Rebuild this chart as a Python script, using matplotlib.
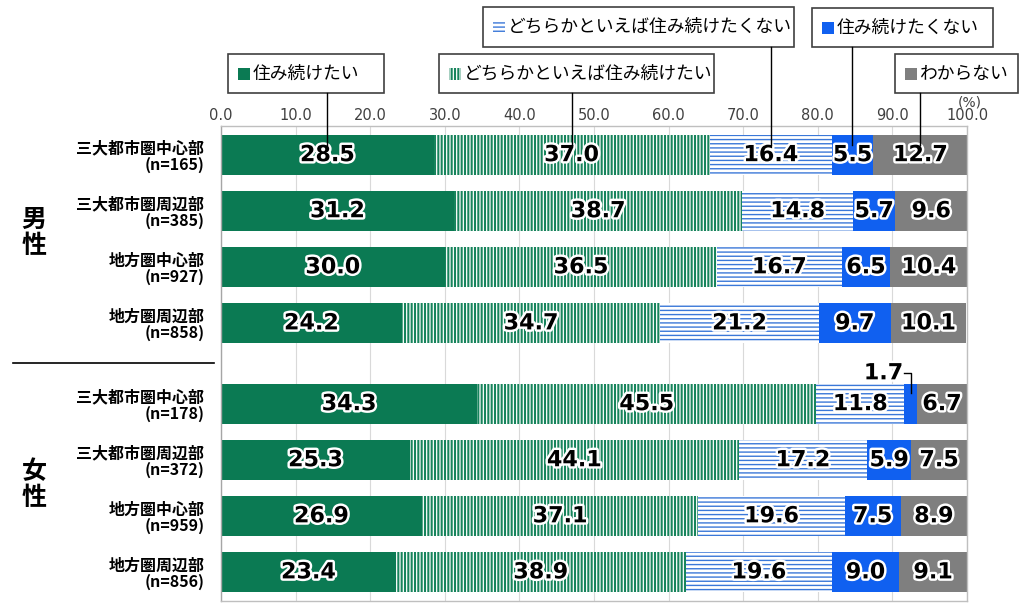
import matplotlib
matplotlib.use('Agg')
import matplotlib.pyplot as plt
from matplotlib.patches import Rectangle
from matplotlib.lines import Line2D
import matplotlib.patheffects as pe
import matplotlib.transforms as mtransforms
import numpy as np

plt.rcParams['font.family'] = ['Noto Sans CJK JP', 'DejaVu Sans']

# data
series = ['住み続けたい', 'どちらかといえば住み続けたい',
          'どちらかといえば住み続けたくない', '住み続けたくない', 'わからない']
groups = ['男性', '女性']
areas = ['三大都市圏中心部', '三大都市圏周辺部', '地方圏中心部', '地方圏周辺部']
n_male = [165, 385, 927, 858]
n_female = [178, 372, 959, 856]
male_vals = [[28.5, 37.0, 16.4, 5.5, 12.7],
             [31.2, 38.7, 14.8, 5.7, 9.6],
             [30.0, 36.5, 16.7, 6.5, 10.4],
             [24.2, 34.7, 21.2, 9.7, 10.1]]
female_vals = [[34.3, 45.5, 11.8, 1.7, 6.7],
               [25.3, 44.1, 17.2, 5.9, 7.5],
               [26.9, 37.1, 19.6, 7.5, 8.9],
               [23.4, 38.9, 19.6, 9.0, 9.1]]

# styles: face, hatch colour, hatch, hatch linewidth
styles = [('#0B7A53', '#0B7A53', None, 1.0),
          ('white', '#17845C', '|' * 5, 1.5),
          ('white', '#3B78D8', '-' * 4, 1.0),
          ('#1060F0', '#1060F0', None, 1.0),
          ('#7F7F7F', '#7F7F7F', None, 1.0)]

W, H = 1024, 609
fig = plt.figure(figsize=(W / 100, H / 100), dpi=100)


def fx(x):
  return x / W


def fy(y):
  return 1 - y / H


ax = fig.add_axes([fx(221), fy(601), fx(967) - fx(221), fy(126) - fy(601)])

vals = np.array(male_vals + female_vals)
gap = 0.44
ypos = np.array([i for i in range(4)] + [i + 4 + gap for i in range(4)])
labels = [f'{a}\n(n={n})' for a, n in zip(areas, n_male)] + \
         [f'{a}\n(n={n})' for a, n in zip(areas, n_female)]

lbl_kw = dict(fontsize=16, fontweight='bold', family='DejaVu Sans',
              color='black', zorder=5,
              path_effects=[pe.withStroke(linewidth=3.5, foreground='white')])

lefts = np.zeros(len(vals))
for j, (face, hc, hatch, hlw) in enumerate(styles):
  plt.rcParams['hatch.linewidth'] = hlw
  bars = ax.barh(ypos, vals[:, j], left=lefts, height=0.71, color=face,
                 edgecolor=hc, hatch=hatch, linewidth=0, zorder=2)
  for b in bars:
    if hasattr(b, 'set_hatch_linewidth'):
      b.set_hatch_linewidth(hlw)
  for k in range(len(vals)):
    v = vals[k, j]
    cx = lefts[k] + v / 2
    if v >= 2:
      ax.text(cx, ypos[k], f'{v:.1f}', ha='center', va='center', **lbl_kw)
    else:
      # small value: label outside with hook line
      yb = ypos[k]
      ax.plot([cx, cx, cx - 0.9], [yb - 0.2, yb - 0.55, yb - 0.55],
              color='black', lw=1, zorder=5, clip_on=False)
      ax.text(cx - 1.0, yb - 0.55, f'{v:.1f}', ha='right', va='center',
              clip_on=False, **lbl_kw)
  lefts = lefts + vals[:, j]

ax.set_xlim(0, 100)
ax.set_ylim(ypos[-1] + 0.51, -0.52)

ax.xaxis.tick_top()
ax.set_xticks(np.arange(0, 101, 10))
ax.set_xticklabels([f'{t:.1f}' for t in np.arange(0, 101, 10)],
                   family='DejaVu Sans', fontsize=10.5, color='#404040')
ax.tick_params(axis='x', length=0, pad=2)
ax.grid(axis='x', color='#D9D9D9', lw=0.8)
ax.set_axisbelow(True)

ax.set_yticks(ypos)
ax.set_yticklabels(labels, fontsize=11.5, fontweight='bold', linespacing=1.0)
ax.tick_params(axis='y', length=0, pad=12)

for s in ax.spines.values():
  s.set_color('#BFBFBF')
  s.set_linewidth(1)
ax.spines['left'].set_color('#A6A6A6')

fig.text(fx(970), fy(102), '(%)', ha='center', va='center',
         fontsize=10, family='DejaVu Sans', color='#404040')

# group labels + divider
fig.text(fx(34), fy(233), '男\n性', ha='center', va='center',
         fontsize=18, fontweight='bold', linespacing=1.1)
fig.text(fx(34), fy(485), '女\n性', ha='center', va='center',
         fontsize=18, fontweight='bold', linespacing=1.1)
fig.add_artist(Line2D([fx(13), fx(214)], [fy(363), fy(363)],
                      transform=fig.transFigure, color='black', lw=1.2))

# callout legend boxes
boxes = [(228, 384, 54, 93),
         (439, 714, 54, 93),
         (483, 794, 7, 47),
         (812, 993, 8, 47),
         (895, 1018, 54, 93)]
blend = mtransforms.blended_transform_factory(ax.transData, fig.transFigure)
first = vals[0]
starts = np.concatenate([[0], np.cumsum(first)[:-1]])
for j, (name, (x0, x1, y0, y1)) in enumerate(zip(series, boxes)):
  face, hc, hatch, hlw = styles[j]
  plt.rcParams['hatch.linewidth'] = hlw
  fig.add_artist(Rectangle((fx(x0), fy(y1)), fx(x1) - fx(x0), fy(y0) - fy(y1),
                           transform=fig.transFigure, facecolor='white',
                           edgecolor='#404040', lw=1.2, zorder=6))
  ym = (y0 + y1) / 2
  fig.add_artist(Rectangle((fx(x0 + 10), fy(ym + 6)), fx(12), 12 / H,
                           transform=fig.transFigure, facecolor=face,
                           edgecolor=hc, hatch=hatch, lw=0, zorder=7))
  fig.text(fx(x0 + 25), fy(ym), name, ha='left', va='center',
           fontsize=12.8, zorder=7)
  mid = starts[j] + first[j] / 2
  fig.add_artist(Line2D([mid, mid], [fy(y1), fy(145)], transform=blend,
                        color='black', lw=1, zorder=6))

fig.savefig('out.png', dpi=100)
